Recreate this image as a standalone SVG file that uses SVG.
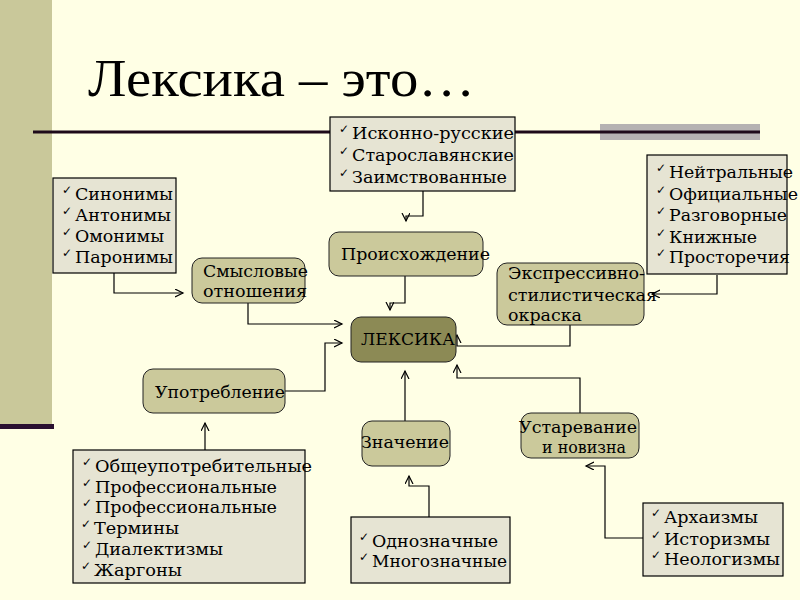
<svg xmlns="http://www.w3.org/2000/svg" width="800" height="600" viewBox="0 0 800 600">
<defs>
<marker id="arr" markerWidth="10" markerHeight="10" refX="8" refY="4" orient="auto" markerUnits="userSpaceOnUse">
<path d="M0,0 L8,4 L0,8" fill="none" stroke="#000" stroke-width="1.2"/>
</marker>
<style>
.bg{fill:#FFFFE5}
.list{fill:#E6E4D3;stroke:#000;stroke-width:1.2}
.node{fill:#CBC99B;stroke:#222;stroke-width:1}
.main{fill:#8C8A55;stroke:#222;stroke-width:1}
.t{font-family:"DejaVu Serif","Liberation Serif",serif;font-size:17px;fill:#000}
.ck{font-family:"DejaVu Sans",sans-serif;font-size:12px;fill:#000}
.c{fill:none;stroke:#000;stroke-width:1.2;marker-end:url(#arr)}
</style>
</defs>
<rect class="bg" x="0" y="0" width="800" height="600"/>
<rect x="0" y="0" width="52" height="425" fill="#C9C89A"/>
<rect x="0" y="424" width="54" height="5" fill="#2A1030"/>
<rect x="600" y="124" width="160" height="16" fill="#B5B2B2"/>
<line x1="33" y1="132" x2="760" y2="132" stroke="#1E0A1A" stroke-width="3"/>
<text x="88" y="96" font-family="Liberation Serif, serif" font-size="52" textLength="387" lengthAdjust="spacingAndGlyphs" fill="#000">Лексика – это…</text>

<g id="connectors">
<path class="c" d="M423,191 V216 H406 V221"/>
<path class="c" d="M114,273 V293 H183"/>
<path class="c" d="M248,303 V324 H342"/>
<path class="c" d="M405,276 V303 H390 V310"/>
<path class="c" d="M717,275 V294 H652"/>
<path class="c" d="M570,325 V346 H457 V335"/>
<path class="c" d="M580,413 V378 H457 V365"/>
<path class="c" d="M405,421 V371"/>
<path class="c" d="M285,391 H325 V343 H342"/>
<path class="c" d="M205,450 V423"/>
<path class="c" d="M429,517 V486 H409 V476"/>
<path class="c" d="M643,538 H605 V466 H586"/>
</g>

<g id="origin-list">
<rect class="list" x="330" y="117" width="185" height="74"/>
<text class="ck" x="339" y="133">✓</text><text class="t" x="352" y="139" textLength="162" lengthAdjust="spacingAndGlyphs">Исконно-русские</text>
<text class="ck" x="339" y="155">✓</text><text class="t" x="352" y="161" textLength="162" lengthAdjust="spacingAndGlyphs">Старославянские</text>
<text class="ck" x="339" y="177">✓</text><text class="t" x="352" y="183" textLength="155" lengthAdjust="spacingAndGlyphs">Заимствованные</text>
</g>

<g id="relations-list">
<rect class="list" x="53" y="178" width="123" height="95"/>
<text class="ck" x="62" y="194">✓</text><text class="t" x="75" y="200" textLength="98" lengthAdjust="spacingAndGlyphs">Синонимы</text>
<text class="ck" x="62" y="215">✓</text><text class="t" x="75" y="221" textLength="96" lengthAdjust="spacingAndGlyphs">Антонимы</text>
<text class="ck" x="62" y="236">✓</text><text class="t" x="75" y="242" textLength="89" lengthAdjust="spacingAndGlyphs">Омонимы</text>
<text class="ck" x="62" y="257">✓</text><text class="t" x="75" y="263" textLength="98" lengthAdjust="spacingAndGlyphs">Паронимы</text>
</g>

<g id="style-list">
<rect class="list" x="647" y="155" width="140" height="119"/>
<text class="ck" x="656" y="172">✓</text><text class="t" x="669" y="178" textLength="124" lengthAdjust="spacingAndGlyphs">Нейтральные</text>
<text class="ck" x="656" y="194">✓</text><text class="t" x="669" y="200" textLength="129" lengthAdjust="spacingAndGlyphs">Официальные</text>
<text class="ck" x="656" y="215">✓</text><text class="t" x="669" y="221" textLength="118" lengthAdjust="spacingAndGlyphs">Разговорные</text>
<text class="ck" x="656" y="237">✓</text><text class="t" x="669" y="243" textLength="88" lengthAdjust="spacingAndGlyphs">Книжные</text>
<text class="ck" x="656" y="257">✓</text><text class="t" x="669" y="263" textLength="121" lengthAdjust="spacingAndGlyphs">Просторечия</text>
</g>

<g id="relations">
<rect class="node" x="192" y="258" width="113" height="45" rx="10"/>
<text class="t" x="203" y="277" textLength="105" lengthAdjust="spacingAndGlyphs">Смысловые</text>
<text class="t" x="203" y="297" textLength="104" lengthAdjust="spacingAndGlyphs">отношения</text>
</g>

<g id="origin">
<rect class="node" x="329" y="232" width="154" height="44" rx="10"/>
<text class="t" x="341" y="260" textLength="149" lengthAdjust="spacingAndGlyphs">Происхождение</text>
</g>

<g id="expressive">
<rect class="node" x="497" y="263" width="147" height="62" rx="10"/>
<text class="t" x="508" y="279" textLength="137" lengthAdjust="spacingAndGlyphs">Экспрессивно-</text>
<text class="t" x="508" y="301" textLength="149" lengthAdjust="spacingAndGlyphs">стилистическая</text>
<text class="t" x="508" y="321" textLength="74" lengthAdjust="spacingAndGlyphs">окраска</text>
</g>

<g id="lexica">
<rect class="main" x="351" y="317" width="105" height="45" rx="10"/>
<text class="t" x="361" y="345" textLength="94" lengthAdjust="spacingAndGlyphs">ЛЕКСИКА</text>
</g>

<g id="usage">
<rect class="node" x="143" y="369" width="142" height="44" rx="10"/>
<text class="t" x="155" y="398" textLength="130" lengthAdjust="spacingAndGlyphs">Употребление</text>
</g>

<g id="meaning">
<rect class="node" x="362" y="421" width="88" height="45" rx="10"/>
<text class="t" x="361" y="448" textLength="88" lengthAdjust="spacingAndGlyphs">Значение</text>
</g>

<g id="age">
<rect class="node" x="521" y="413" width="118" height="45" rx="10"/>
<text class="t" x="519" y="433" textLength="118" lengthAdjust="spacingAndGlyphs">Устаревание</text>
<text class="t" x="542" y="453" textLength="84" lengthAdjust="spacingAndGlyphs">и новизна</text>
</g>

<g id="usage-list">
<rect class="list" x="73" y="450" width="232" height="133"/>
<text class="ck" x="82" y="466">✓</text><text class="t" x="95" y="472" textLength="217" lengthAdjust="spacingAndGlyphs">Общеупотребительные</text>
<text class="ck" x="82" y="487">✓</text><text class="t" x="95" y="493" textLength="182" lengthAdjust="spacingAndGlyphs">Профессиональные</text>
<text class="ck" x="82" y="507">✓</text><text class="t" x="95" y="513" textLength="182" lengthAdjust="spacingAndGlyphs">Профессиональные</text>
<text class="ck" x="81" y="528">✓</text><text class="t" x="94" y="534" textLength="85" lengthAdjust="spacingAndGlyphs">Термины</text>
<text class="ck" x="82" y="549">✓</text><text class="t" x="95" y="555" textLength="128" lengthAdjust="spacingAndGlyphs">Диалектизмы</text>
<text class="ck" x="81" y="570">✓</text><text class="t" x="94" y="576" textLength="88" lengthAdjust="spacingAndGlyphs">Жаргоны</text>
</g>

<g id="meaning-list">
<rect class="list" x="351" y="517" width="159" height="66"/>
<text class="ck" x="359" y="541">✓</text><text class="t" x="372" y="547" textLength="126" lengthAdjust="spacingAndGlyphs">Однозначные</text>
<text class="ck" x="359" y="561">✓</text><text class="t" x="372" y="567" textLength="135" lengthAdjust="spacingAndGlyphs">Многозначные</text>
</g>

<g id="age-list">
<rect class="list" x="643" y="503" width="140" height="73"/>
<text class="ck" x="651" y="517">✓</text><text class="t" x="664" y="523" textLength="94" lengthAdjust="spacingAndGlyphs">Архаизмы</text>
<text class="ck" x="651" y="539">✓</text><text class="t" x="664" y="545" textLength="106" lengthAdjust="spacingAndGlyphs">Историзмы</text>
<text class="ck" x="651" y="559">✓</text><text class="t" x="664" y="565" textLength="116" lengthAdjust="spacingAndGlyphs">Неологизмы</text>
</g>
</svg>
